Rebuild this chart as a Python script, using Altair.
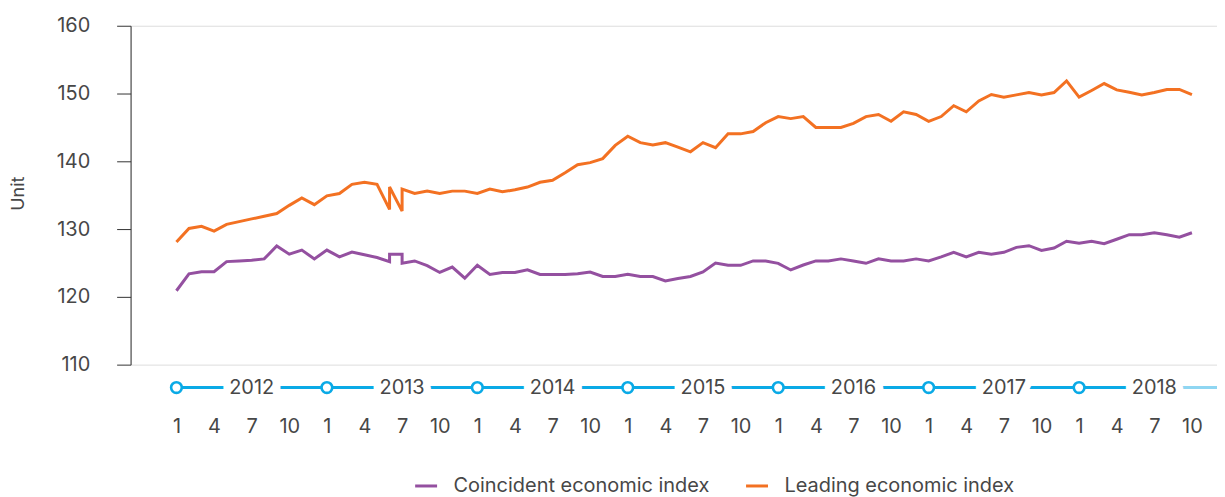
import altair as alt
import pandas as pd

FONT = "Inter"
TEXT = "#474747"
PURPLE = "#9450A0"
ORANGE = "#F37122"
CYAN = "#0AAAE6"
CYAN_LIGHT = "#8FD6F2"
FS = 20

years = [2012, 2013, 2014, 2015, 2016, 2017, 2018]
month_ticks = [1, 4, 7, 10]
series_names = ["Coincident economic index", "Leading economic index"]

# monthly periods Jan 2012 - Oct 2018; June and July 2013 are reported twice
base_periods = [f"{y}-{m:02d}" for y in years for m in range(1, 13)][:82]
periods = base_periods[:18] + ["2013-06"] + [base_periods[18]] + ["2013-07"] + base_periods[19:]

coincident = [
    120.9, 123.4, 123.7, 123.7, 125.2, 125.3, 125.4, 125.6, 127.5, 126.3, 126.9, 125.6,
    126.9, 125.9, 126.6, 126.2, 125.8, 125.2, 126.3, 126.3, 124.95, 125.3, 124.6, 123.6,
    124.4, 122.75, 124.66, 123.3, 123.6, 123.6, 124.0, 123.3, 123.3, 123.3, 123.4, 123.67,
    123.0, 123.0, 123.33, 123.0, 123.0, 122.35, 122.7, 123.0, 123.67, 125.0, 124.65, 124.65,
    125.3, 125.3, 124.95, 123.97, 124.7, 125.3, 125.3, 125.6, 125.3, 124.95, 125.6, 125.3,
    125.3, 125.6, 125.3, 125.9, 126.57, 125.9, 126.57, 126.3, 126.57, 127.3, 127.55, 126.86,
    127.2, 128.2, 127.9, 128.2, 127.85, 128.5, 129.17, 129.17, 129.46, 129.17, 128.8, 129.46,
]
leading = [
    128.1, 130.1, 130.4, 129.7, 130.7, 131.1, 131.5, 131.9, 132.3, 133.5, 134.6, 133.6,
    134.9, 135.25, 136.6, 136.9, 136.6, 132.9, 136.2, 132.65, 135.9, 135.25, 135.6, 135.25,
    135.6, 135.6, 135.25, 135.9, 135.5, 135.8, 136.2, 136.9, 137.2, 138.3, 139.5, 139.8,
    140.4, 142.35, 143.7, 142.75, 142.4, 142.75, 142.1, 141.4, 142.75, 142.0, 144.05, 144.05,
    144.4, 145.7, 146.6, 146.3, 146.6, 145.0, 145.0, 145.0, 145.6, 146.6, 146.9, 145.9,
    147.3, 146.9, 145.9, 146.6, 148.2, 147.3, 148.9, 149.85, 149.46, 149.8, 150.15, 149.8,
    150.15, 151.86, 149.46, 150.44, 151.47, 150.54, 150.2, 149.8, 150.15, 150.6, 150.6, 149.85,
]


def month_index(p):
    y, m = p.split("-")
    return (int(y) - years[0]) * 12 + int(m) - 1


rows = []
for k, p in enumerate(periods):
    idx = month_index(p)
    rows.append({"idx": idx, "value": coincident[k], "series": series_names[0], "order": k})
    rows.append({"idx": idx, "value": leading[k], "series": series_names[1], "order": k})
df = pd.DataFrame(rows)

X_DOMAIN = [-3.657, 83.0]
x_scale = alt.Scale(domain=X_DOMAIN, nice=False, zero=False)
tick_values = [(y - years[0]) * 12 + m - 1 for y in years for m in month_ticks
               if (y - years[0]) * 12 + m - 1 <= month_index(periods[-1])]

lines = alt.Chart(df).mark_line(strokeWidth=3, clip=False).encode(
    x=alt.X("idx:Q", scale=x_scale,
            axis=alt.Axis(values=tick_values, labelExpr="(datum.value % 12) + 1",
                          domain=False, ticks=False, grid=False, labelPadding=52,
                          labelFontSize=FS, labelColor=TEXT, labelFont=FONT, title=None,
                          labelFlush=False, labelOverlap=False)),
    y=alt.Y("value:Q", scale=alt.Scale(domain=[110, 160], nice=False, zero=False),
            axis=alt.Axis(values=[110, 120, 130, 140, 150, 160], grid=False,
                          domainColor="#333333", tickColor="#333333", tickSize=14,
                          labelPadding=27, labelFontSize=FS, labelColor=TEXT, labelFont=FONT,
                          title="Unit", titleFont=FONT, titleFontSize=18, titleColor=TEXT,
                          titleFontWeight="normal", titleX=-112, titleY=168,
                          titleBaseline="middle", titleAngle=270)),
    color=alt.Color("series:N",
                    scale=alt.Scale(domain=series_names, range=[PURPLE, ORANGE]),
                    legend=alt.Legend(orient="none", legendX=284, legendY=449,
                                      direction="horizontal", title=None,
                                      symbolType="stroke", symbolStrokeWidth=3,
                                      symbolSize=484, labelFontSize=FS, labelFont=FONT,
                                      labelColor=TEXT, labelOffset=15, columnPadding=30,
                                      labelLimit=0, padding=0)),
    order="order:Q",
)

# year band below the plot
year_df = pd.DataFrame({
    "year": [str(y) for y in years],
    "start": [(y - years[0]) * 12 for y in years],
    "mid": [(y - years[0]) * 12 + 6 for y in years],
})
band_df = pd.DataFrame({"a": [year_df["start"].iloc[0]], "b": [year_df["mid"].iloc[-1]]})
fade_df = pd.DataFrame({"a": [year_df["mid"].iloc[-1]], "b": [X_DOMAIN[1]]})

ROW_Y = 363

band = alt.Chart(band_df).mark_rule(color=CYAN, strokeWidth=3, clip=False).encode(
    x=alt.X("a:Q", scale=x_scale), x2="b:Q", y=alt.value(ROW_Y))
fade = alt.Chart(fade_df).mark_rule(color=CYAN_LIGHT, strokeWidth=3, clip=False).encode(
    x=alt.X("a:Q", scale=x_scale), x2="b:Q", y=alt.value(ROW_Y))
halo = alt.Chart(year_df).mark_text(fontSize=FS, font=FONT, stroke="white", strokeWidth=15,
                                     fill="white", baseline="middle", clip=False).encode(
    x=alt.X("mid:Q", scale=x_scale), y=alt.value(ROW_Y), text="year:N")
labels = alt.Chart(year_df).mark_text(fontSize=FS, font=FONT, color=TEXT,
                                       baseline="middle", clip=False).encode(
    x=alt.X("mid:Q", scale=x_scale), y=alt.value(ROW_Y), text="year:N")
circles = alt.Chart(year_df).mark_point(shape="circle", filled=True, fill="white",
                                         stroke=CYAN, strokeWidth=2.6, size=115,
                                         opacity=1, clip=False).encode(
    x=alt.X("start:Q", scale=x_scale), y=alt.value(ROW_Y))

chart = alt.layer(band, fade, halo, labels, circles, lines).properties(
    width=1090, height=340,
    autosize=alt.AutoSizeParams(type="none"),
    padding={"left": 123, "top": 17, "right": 0, "bottom": 132},
).configure_view(stroke=None).configure(font=FONT)

chart.save("out.html", embed_options={"renderer": "svg", "actions": False})
